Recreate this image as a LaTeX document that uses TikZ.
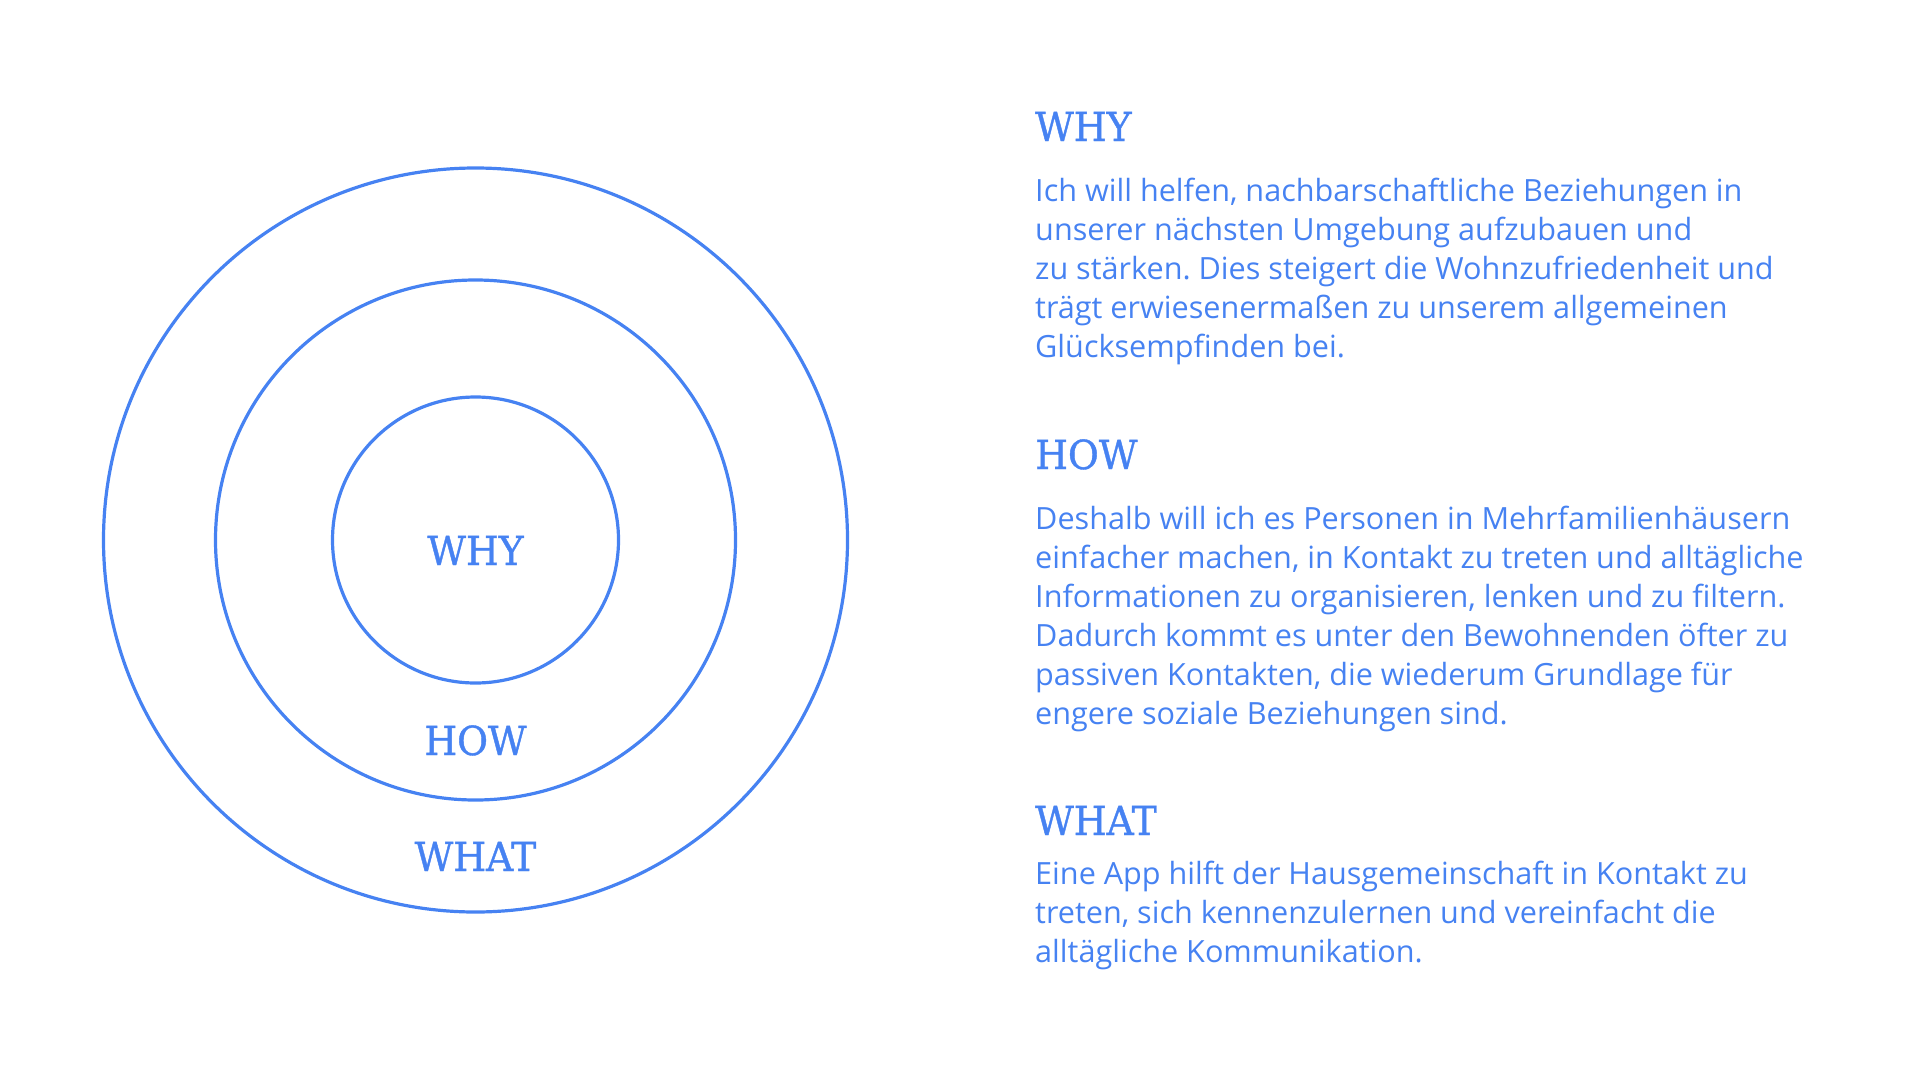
\documentclass[tikz,border=0pt]{standalone}
\usepackage{fontspec}
\setmainfont{Open Sans}
\newfontfamily\headfont[FakeStretch=0.94,FakeBold=1]{DejaVu Serif}
\definecolor{wblue}{HTML}{4682F2}
\begin{document}
\begin{tikzpicture}[x=1pt,y=-1pt,
  ring/.style={draw=wblue,line width=3.2pt},
  ringlabel/.style={text=wblue,inner sep=0pt,anchor=base,font=\headfont\fontsize{40}{48}\selectfont},
  heading/.style={text=wblue,inner sep=0pt,anchor=base west,font=\headfont\fontsize{40}{48}\selectfont},
  bodytext/.style={text=wblue,inner sep=0pt,anchor=base west,font=\frenchspacing\fontsize{30.6}{39}\selectfont}]
\useasboundingbox (0,0) rectangle (1921,1081);
\coordinate (c) at (475.5,540);
\draw[ring] (c) circle[radius=372];
\draw[ring] (c) circle[radius=260];
\draw[ring] (c) circle[radius=143];
\node[ringlabel] (lwhy) at (475.5,565) {WHY};
\node[ringlabel] (lhow) at (475.5,755) {HOW};
\node[ringlabel] (lwhat) at (475.5,871) {WHAT};
\node[heading] (hwhy) at (1035,141) {WHY};
\node[bodytext] (bwhy) at (1035,201) {\parbox[t]{850pt}{\raggedright\frenchspacing
Ich will helfen, nachbarschaftliche Beziehungen in\\
unserer nächsten Umgebung aufzubauen und\\
zu stärken. Dies steigert die Wohnzufriedenheit und\\
trägt erwiesenermaßen zu unserem allgemeinen\\
Glücksempfinden bei.}};
\node[heading] (hhow) at (1035,469) {HOW};
\node[bodytext] (bhow) at (1035,529) {\parbox[t]{850pt}{\raggedright\frenchspacing
Deshalb will ich es Personen in Mehrfamilienhäusern\\
einfacher machen, in Kontakt zu treten und alltägliche\\
Informationen zu organisieren, lenken und zu filtern.\\
Dadurch kommt es unter den Bewohnenden öfter zu\\
passiven Kontakten, die wiederum Grundlage für\\
engere soziale Beziehungen sind.}};
\node[heading] (hwhat) at (1035,835) {WHAT};
\node[bodytext] (bwhat) at (1035,884) {\parbox[t]{850pt}{\raggedright\frenchspacing
Eine App hilft der Hausgemeinschaft in Kontakt zu\\
treten, sich kennenzulernen und vereinfacht die\\
alltägliche Kommunikation.}};
\end{tikzpicture}
\end{document}
